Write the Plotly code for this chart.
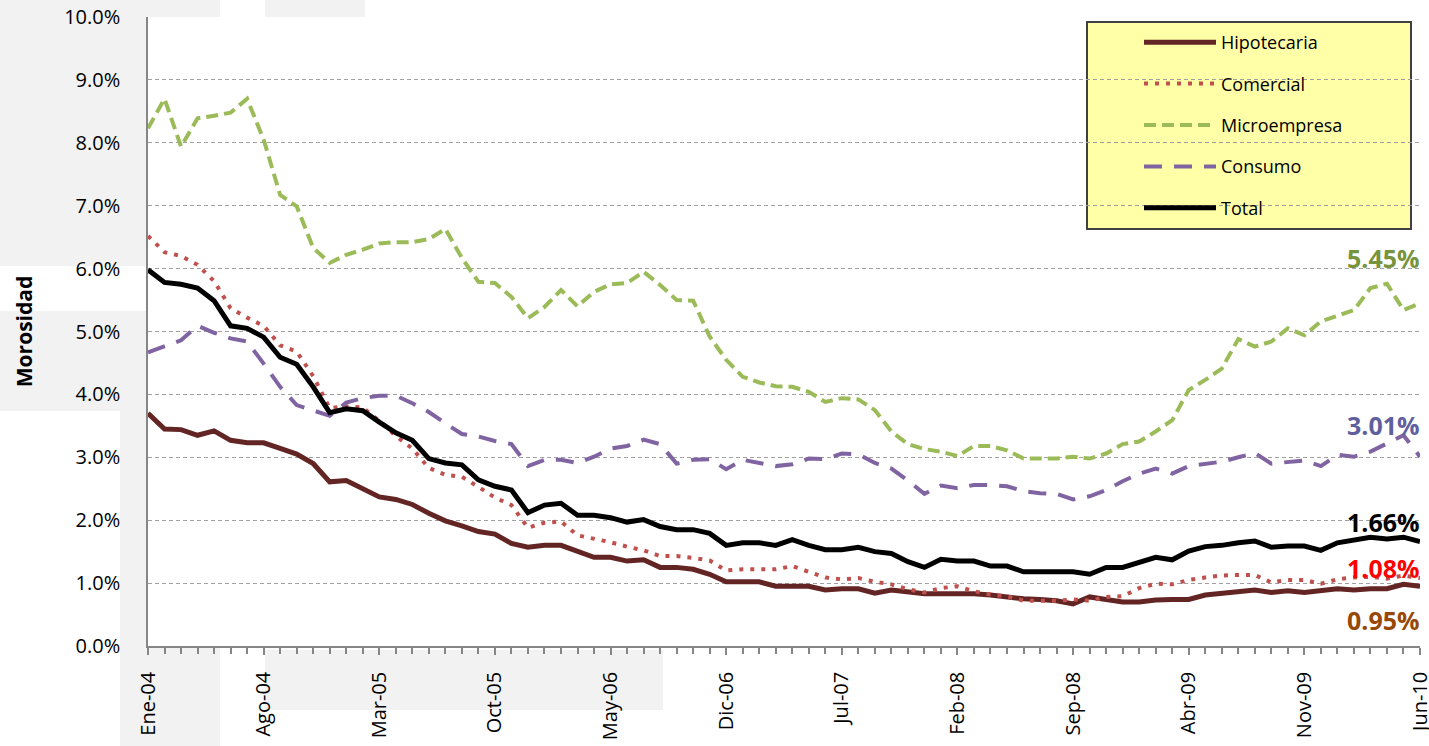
import plotly.graph_objects as go

# months Ene-04 .. Jun-10
meses = ["Ene", "Feb", "Mar", "Abr", "May", "Jun", "Jul", "Ago", "Sep", "Oct", "Nov", "Dic"]
periodos = [f"{meses[m % 12]}-{4 + m // 12:02d}" for m in range(78)]

hipotecaria = [3.70, 3.45, 3.44, 3.35, 3.42, 3.27, 3.23, 3.23, 3.14, 3.05,
               2.90, 2.61, 2.63, 2.49, 2.37, 2.33, 2.25, 2.11, 1.99, 1.91,
               1.82, 1.78, 1.63, 1.57, 1.60, 1.60, 1.50, 1.41, 1.41, 1.35,
               1.37, 1.25, 1.25, 1.22, 1.14, 1.02, 1.02, 1.02, 0.95, 0.95,
               0.95, 0.89, 0.91, 0.91, 0.84, 0.89, 0.86, 0.83, 0.83, 0.83,
               0.83, 0.81, 0.78, 0.75, 0.74, 0.72, 0.67, 0.78, 0.74, 0.70,
               0.70, 0.73, 0.74, 0.74, 0.81, 0.84, 0.86, 0.89, 0.85, 0.88,
               0.85, 0.89, 0.91, 0.89, 0.91, 0.91, 0.98, 0.95]
comercial = [6.52, 6.26, 6.20, 6.06, 5.80, 5.37, 5.22, 5.09, 4.78, 4.68,
             4.29, 3.78, 3.81, 3.79, 3.58, 3.34, 3.14, 2.83, 2.72, 2.69,
             2.53, 2.36, 2.24, 1.88, 1.96, 1.98, 1.76, 1.71, 1.65, 1.58,
             1.52, 1.43, 1.43, 1.40, 1.36, 1.20, 1.22, 1.22, 1.22, 1.27,
             1.18, 1.09, 1.06, 1.08, 1.02, 0.98, 0.90, 0.85, 0.92, 0.95,
             0.87, 0.82, 0.79, 0.72, 0.72, 0.72, 0.74, 0.72, 0.78, 0.79,
             0.92, 0.99, 0.98, 1.05, 1.09, 1.12, 1.13, 1.13, 1.01, 1.05,
             1.05, 0.99, 1.06, 1.09, 1.10, 1.07, 1.12, 1.08]
microempresa = [8.23, 8.70, 7.94, 8.39, 8.43, 8.48, 8.70, 8.05, 7.17, 6.99,
                6.33, 6.09, 6.22, 6.30, 6.40, 6.42, 6.42, 6.47, 6.63, 6.17,
                5.79, 5.77, 5.55, 5.21, 5.39, 5.66, 5.40, 5.63, 5.75, 5.77,
                5.95, 5.74, 5.50, 5.49, 4.92, 4.55, 4.28, 4.19, 4.13, 4.12,
                4.04, 3.88, 3.94, 3.92, 3.75, 3.41, 3.21, 3.13, 3.09, 3.02,
                3.18, 3.18, 3.11, 2.98, 2.98, 2.98, 3.01, 2.98, 3.06, 3.21,
                3.25, 3.41, 3.59, 4.07, 4.23, 4.41, 4.88, 4.76, 4.84, 5.05,
                4.94, 5.16, 5.25, 5.34, 5.69, 5.76, 5.34, 5.45]
consumo = [4.67, 4.77, 4.86, 5.09, 4.98, 4.89, 4.84, 4.49, 4.12, 3.83,
           3.75, 3.66, 3.87, 3.94, 3.98, 3.98, 3.86, 3.72, 3.54, 3.37,
           3.33, 3.26, 3.21, 2.86, 2.96, 2.96, 2.91, 3.01, 3.14, 3.18,
           3.28, 3.21, 2.90, 2.96, 2.97, 2.81, 2.96, 2.91, 2.86, 2.89,
           2.98, 2.97, 3.06, 3.05, 2.91, 2.82, 2.63, 2.42, 2.55, 2.51,
           2.56, 2.56, 2.54, 2.46, 2.43, 2.42, 2.33, 2.38, 2.48, 2.62,
           2.74, 2.82, 2.74, 2.86, 2.90, 2.93, 3.00, 3.07, 2.90, 2.92,
           2.95, 2.86, 3.04, 3.01, 3.09, 3.22, 3.35, 3.01]
total = [5.98, 5.78, 5.75, 5.69, 5.49, 5.09, 5.05, 4.91, 4.59, 4.48,
         4.12, 3.71, 3.77, 3.74, 3.56, 3.39, 3.27, 2.98, 2.91, 2.88,
         2.64, 2.54, 2.48, 2.12, 2.24, 2.27, 2.08, 2.08, 2.04, 1.97,
         2.01, 1.90, 1.85, 1.85, 1.79, 1.60, 1.64, 1.64, 1.60, 1.69,
         1.60, 1.53, 1.53, 1.57, 1.50, 1.47, 1.34, 1.25, 1.38, 1.35,
         1.35, 1.27, 1.27, 1.18, 1.18, 1.18, 1.18, 1.14, 1.25, 1.25,
         1.32, 1.41, 1.37, 1.51, 1.58, 1.60, 1.64, 1.67, 1.57, 1.59,
         1.59, 1.52, 1.64, 1.68, 1.73, 1.70, 1.73, 1.66]

x = list(range(len(periodos)))
W, H = 1429, 746
L, R, T, B = 148, 9, 17, 100
pw, ph = W - L - R, H - T - B


def px(xp):
    return (xp - L) / pw


def py(yp):
    return (H - B - yp) / ph


series = [
    ("Hipotecaria", hipotecaria, dict(color="#632523", width=5), "#974806", 34),
    ("Comercial", comercial, dict(color="#C0504D", width=4, dash="4px,7px"), "#FF0000", -10),
    ("Microempresa", microempresa, dict(color="#9BBB59", width=4, dash="12px,6px"), "#77933C", -45),
    ("Consumo", consumo, dict(color="#8064A2", width=4, dash="18px,12px"), "#5F5F9E", -32),
    ("Total", total, dict(color="#000000", width=5), "#000000", -20),
]

fig = go.Figure()
for name, vals, line, lab_color, shift in series:
    fig.add_trace(go.Scatter(x=x, y=vals, name=name, mode="lines", line=line,
                             legendgroup=name))
    fig.add_annotation(x=x[-1], y=vals[-1], text=f"<b>{vals[-1]:.2f}%</b>",
                       showarrow=False, xanchor="right", yanchor="middle",
                       xshift=2, yshift=-shift,
                       font=dict(family="Open Sans", size=25, color=lab_color))

# grey page blocks behind the chart
grey = "#F2F2F2"
blocks = [(0, 0, 120, 166), (0, 166, 148, 266), (0, 311, 148, 411),
          (120, 0, 148, 266), (120, 311, 148, 746), (148, 0, 220, 17),
          (148, 646, 220, 746), (265, 0, 365, 17), (265, 650, 663, 710)]
shapes = [dict(type="rect", xref="paper", yref="paper", layer="below",
               x0=px(a), x1=px(c), y0=py(d), y1=py(b),
               fillcolor=grey, line=dict(width=0)) for a, b, c, d in blocks]
# legend box
shapes.append(dict(type="rect", xref="paper", yref="paper", layer="below",
                   x0=px(1087), x1=px(1411), y0=py(229), y1=py(22),
                   fillcolor="#FFFFA8", line=dict(color="#404040", width=2)))

axis_grey = "#868686"
fig.update_layout(
    width=W, height=H,
    margin=dict(l=L, r=R, t=T, b=B),
    paper_bgcolor="white",
    plot_bgcolor="white",
    font=dict(family="Open Sans", color="#000000"),
    shapes=shapes,
    showlegend=True,
    legend=dict(x=px(1139), y=py(24), xanchor="left", yanchor="top",
                bgcolor="rgba(0,0,0,0)", borderwidth=0,
                font=dict(family="Open Sans", size=18),
                itemwidth=72, tracegroupgap=15),
    xaxis=dict(range=[0, len(x) - 1], tickmode="array",
               tickvals=x[::7], ticktext=periodos[::7],
               tickangle=-90, tickfont=dict(size=20), automargin=False,
               ticklabeloverflow="allow",
               ticks="outside", ticklen=7, tickcolor=axis_grey, tickwidth=1.5,
               minor=dict(tickmode="linear", tick0=0, dtick=1, ticks="outside",
                          ticklen=6, tickcolor=axis_grey, tickwidth=1.5),
               showline=True, linecolor=axis_grey, linewidth=1.5,
               showgrid=False, zeroline=False, ticklabelstandoff=9),
    # second x axis only to draw the part of the major ticks above the axis line
    xaxis2=dict(overlaying="x", anchor="y", side="bottom",
                range=[0, len(x) - 1], tickmode="array", tickvals=x[::7],
                ticks="inside", ticklen=7, tickcolor=axis_grey, tickwidth=1.5,
                showticklabels=False, showline=False, showgrid=False,
                zeroline=False, automargin=False),
    yaxis=dict(range=[0, 10], dtick=1, tickformat=".1f", ticksuffix="%",
               tickfont=dict(size=20), showline=True, linecolor=axis_grey,
               linewidth=1.5, showgrid=True, gridcolor="#A0A0A0", gridwidth=1.2,
               griddash="4px,3px", zeroline=False, ticks="", automargin=False,
               ticklabelstandoff=22,
               title=dict(text="<b>Morosidad</b>", font=dict(size=21), standoff=26)),
)

fig.write_html("out.html", config={"displayModeBar": False},
               post_script="document.body.style.margin = '0';")
